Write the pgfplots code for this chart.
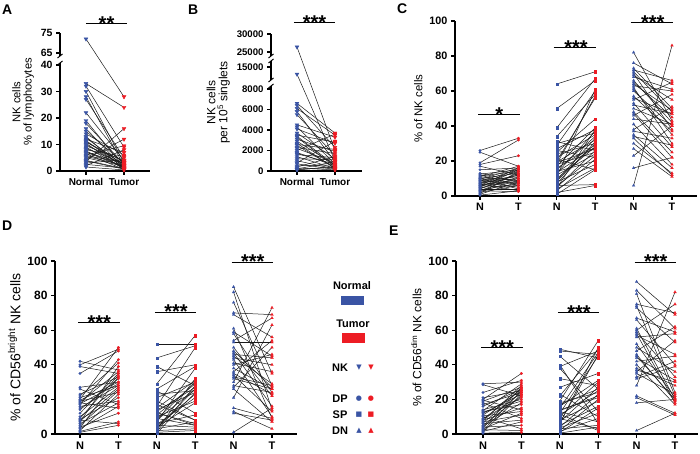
\documentclass[border=0pt]{standalone}
\usepackage{pgfplots}
\pgfplotsset{compat=1.18}
\usepackage{pgfplotstable}
\usepackage{fontspec}
\setmainfont{Liberation Sans}
\newfontfamily\symfont{DejaVu Sans}
\definecolor{nblue}{RGB}{58,84,164}
\definecolor{tred}{RGB}{237,28,36}

% ---------------- data (N = normal, T = tumor, one row per patient) -------------
\pgfplotstableread{
N T
72 28
33 24
32 9
30 3
28 2
27 5
22 4
19 1.5
18 2.5
16 1
15 3
14 6
13 0.8
12.5 2
12 7
11.5 1.2
11 3.5
10.5 0.5
10 2
9.5 4
9 1
8.5 2.8
8 5.5
7.5 1.5
7 3
6.5 0.6
6 9.5
5.5 2.2
5 1.8
4.5 12
4 0.9
3.5 16
3 4.2
2.5 1.1
2 8
1.5 0.4
11 2.6
7.2 1.3
5.8 3.2
3.8 0.7
}\tabA

\pgfplotstableread{
N T
26400 2000
13000 1000
6600 3700
6400 2300
6100 3500
5800 900
5500 1500
4500 3300
4300 700
4100 2700
3700 1200
3500 2800
3300 400
3100 1900
2900 600
2600 2100
2500 300
2300 1700
2200 800
2000 3600
1800 500
1600 1300
1400 250
1200 1100
1000 200
800 2900
700 150
500 600
400 1400
300 100
200 900
150 350
100 450
3400 550
2700 250
1700 650
}\tabB

\pgfplotstableread{
N T
26 33
25 17
19 32
18 23
17 12
15 16
13 8
12.5 15
12 6
11.5 14
11 17
10.5 9
10 13
10 4
9.5 16
9 11
9 7
8.5 15
8 10
8 5
7.5 14
7 12
7 3
6.5 9
6 16
6 8
5.5 12
5 6
5 15
4.5 10
4 4
4 13
3.5 7
3 11
3 2.5
2.5 9
2 6
1.5 14
1 8
0.5 3
}\tabCdp

\pgfplotstableread{
N T
64 71
50 66
39 67
34 58
31 26
30 36
29 60
27 38
26 22
25 44
24 30
22 35
21 15
20 56
19.5 32
19 27
18.5 57
18 25
17 39
16 29
15 34
14 20
13 37
12 24
11 61
10 28
9 33
8 18
7 31
6 6.5
5.5 23
5 26
4 16
3 21
2 6
1 15
13.5 28
8.5 30
4.5 38
}\tabCsp

\pgfplotstableread{
N T
82 43
76 64
73 50
72 66
71 48
70 38
69 55
68 61
66 42
65 45
64 49
63 60
62 30
60 40
57 37
56 47
55 65
53 28
50 41
48 25
47 22
46 58
41 18
38 51
37 33
35 16
34 29
33 12
30 13
27 11
23 40
16 22
6 86
44 41
52 47
61 35
}\tabCdn

\pgfplotstableread{
N T
42 37
40 49
39 35
35 48
27 30
26 17
23 33
22 41
21 28
20 50
19 24
18.5 36
18 15
17.5 29
17 43
16 19
14 32
10 27
9 34
8.5 21
8 6
7 39
6 18
5 25
4 12
3 16
2 23
1.5 7
1 5
19.5 30
15 28
12 35
7.5 26
3.5 33
}\tabDdp

\pgfplotstableread{
N T
52 52
44 51
39 28
36 40
29 57
26 39
25 12
23 25
21 30
19 8
16 50
15 31
14 24
13 27
12 6
11 29
10 19
9 5
8 26
7 38
6 11
5.5 21
5 4
4.5 23
4 18
3 7
2.5 32
2 3
1.5 28
1 2
0.5 24
17 8
12.5 5
8.5 30
3.5 26
}\tabDsp

\pgfplotstableread{
N T
85 35
82 14
76 28
70 69
69 56
61 9
59 45
58 24
54 67
53 53
50 22
48 27
47 16
46 44
45 29
43 10
41 36
38 26
36 54
35 23
34 13
33 28
30 73
28 24
27 50
26 7
21 63
15 9
13 3
12 8
1 15
44 40
40 46
32 26
}\tabDdn

\pgfplotstableread{
N T
29 30
28.5 22
24 31
21 25
20 35
19.5 14
19 27
18 9
17 24
16 26
14 20
13.5 29
13 17
12 23
11 25
10.5 13
10 3
9 21
8.5 26
8 15
7 11
6.5 24
6 8
5 22
4.5 18
4 5
3.5 27
3 12
2.5 2
2 25
1.5 7
1 23
0.5 1
12.5 19
7.5 28
}\tabEdp

\pgfplotstableread{
N T
49 44
48 46
45 26
40 6
39 48
38 13
32 28
27 35
23 10
22 49
19 54
18 24
16 31
15 47
14 21
13.5 22
13 7
12 45
11 25
10 30
9 3
8 19
7 27
6 50
5 16
4 23
3.5 12
3 5
2 20
1.5 9
1 15
0.5 4
17 26
11.5 2
6.5 46
}\tabEsp

\pgfplotstableread{
N T
88 69
83 61
81 24
75 70
74 22
73 53
66 40
61 20
60 75
59 33
58 18
57 46
56 58
52 21
50 36
48 62
46 19
44 31
42 45
40 17
38 28
37 30
36 54
35 23
33 42
32 39
28 82
22 12
21 11
18 20
2 12
67 59
45 20
}\tabEdn

\newcommand{\fs}[1]{\fontsize{#1}{#1}\selectfont}
\pgfplotsset{
  panel/.style={
    scale only axis, anchor=south west, clip=false,
    axis lines*=left, axis line style={line width=1.2pt},
    tick align=outside, major tick length=4pt,
    tick style={line width=1.1pt, black},
    /pgf/number format/assume math mode=true,
    enlargelimits=false, minor tick num=0,
  },
  trio/.style={panel, width=242pt, xtick={1,2,3,4,5,6},
    xticklabels={N,T,N,T,N,T}, ymin=0, ymax=100, ytick={0,20,40,60,80,100}},
  pairline/.style={black!90, line width=0.5pt, no marks, forget plot},
  nmark/.style={only marks, color=nblue, mark options={draw=nblue, fill=nblue, line width=0.1pt}},
  tmark/.style={only marks, color=tred, mark options={draw=tred, fill=tred, line width=0.1pt}},
}

\newcommand{\sig}[5]{%
  \draw[line width=1pt, black] (axis cs:#1,#4) -- (axis cs:#2,#4);
  \node[font=\bfseries\fs{20}, anchor=base, inner sep=0pt, yshift=-6.4pt] at (axis cs:#3,#4) {#5};
}
% one group of paired points: table, x of normal, x of tumor, mark, mark size
\newcommand{\pairs}[5]{%
  \addplot[pairline, quiver={u=1, v=\thisrow{T}-\thisrow{N}}] table[x expr=#2, y=N] {#1};
  \addplot[nmark, mark=#4, mark size=#5] table[x expr=#2, y=N] {#1};
  \addplot[tmark, mark=#4, mark size=#5] table[x expr=#3, y=T] {#1};
}

\begin{document}
\begin{tikzpicture}[declare function={
    brkA(\x)=(\x<=50)*(\x*2.65)+(\x>50)*(118+(\x-65)*2);
    brkB(\x)=(\x<=10000)*(\x*0.01025)+(\x>10000)*(\x<=20000)*(104+(\x-15000)*0.0036)+(\x>20000)*(119+(\x-25000)*0.0036);
  }]
\path[use as bounding box] (0,0) rectangle (700pt,454pt);

% ---------------- A ----------------
\begin{axis}[panel, at={(60pt,283pt)}, width=90pt, height=138pt,
  xmin=0.316, xmax=2.684, ymin=0, ymax=138,
  xtick={1,2}, xticklabels={Normal,Tumor},
  ytick={0,26.5,53,79.5,106,118,138}, yticklabels={0,10,20,30,40,65,75},
  yticklabel style={font=\bfseries\fs{10.5}},
  xticklabel style={font=\bfseries\fs{10}},
  y axis line style={draw=none},
  ylabel={NK cells\\\% of lymphocytes}, ylabel style={align=center, font=\fs{11.2}}]
\addplot[pairline, quiver={u=1, v=brkA(\thisrow{T})-brkA(\thisrow{N})}] table[x expr=1, y expr=brkA(\thisrow{N})] {\tabA};
\addplot[nmark, mark=triangle*, mark size=2.2pt, mark options={rotate=180}] table[x expr=1, y expr=brkA(\thisrow{N})] {\tabA};
\addplot[tmark, mark=triangle*, mark size=2.2pt, mark options={rotate=180}] table[x expr=2, y expr=brkA(\thisrow{T})] {\tabA};
\draw[line width=1.2pt] (axis cs:0.316,-0.6) -- (axis cs:0.316,108);
\draw[line width=1pt] (axis cs:0.316,108) ++(-2.5pt,-2pt) -- ++(5pt,4pt);
\draw[line width=1.2pt] (axis cs:0.316,115) -- (axis cs:0.316,138);
\draw[line width=1pt] (axis cs:0.316,115) ++(-2.5pt,-2pt) -- ++(5pt,4pt);
\sig{1}{2.08}{1.54}{147}{**}
\end{axis}

% ---------------- B ----------------
\begin{axis}[panel, at={(271pt,283pt)}, width=91pt, height=137pt,
  xmin=0.316, xmax=2.711, ymin=0, ymax=137,
  xtick={1,2}, xticklabels={Normal,Tumor},
  ytick={0,20.5,41,61.5,82,104,119,137}, yticklabels={0,2000,4000,6000,8000,15000,25000,30000},
  yticklabel style={font=\bfseries\fs{9.6}},
  xticklabel style={font=\bfseries\fs{10}},
  y axis line style={draw=none},
  ylabel={NK cells\\per 10\textsuperscript{5} singlets}, ylabel style={align=center, font=\fs{12}}]
\addplot[pairline, quiver={u=1, v=brkB(\thisrow{T})-brkB(\thisrow{N})}] table[x expr=1, y expr=brkB(\thisrow{N})] {\tabB};
\addplot[nmark, mark=triangle*, mark size=2.2pt, mark options={rotate=180}] table[x expr=1, y expr=brkB(\thisrow{N})] {\tabB};
\addplot[tmark, mark=triangle*, mark size=2.2pt, mark options={rotate=180}] table[x expr=2, y expr=brkB(\thisrow{T})] {\tabB};
\draw[line width=1.2pt] (axis cs:0.316,-0.6) -- (axis cs:0.316,85);
\draw[line width=1pt] (axis cs:0.316,85) ++(-2.5pt,-2pt) -- ++(5pt,4pt);
\draw[line width=1.2pt] (axis cs:0.316,91) -- (axis cs:0.316,110);
\draw[line width=1pt] (axis cs:0.316,91) ++(-2.5pt,-2pt) -- ++(5pt,4pt);
\draw[line width=1pt] (axis cs:0.316,110) ++(-2.5pt,-2pt) -- ++(5pt,4pt);
\draw[line width=1.2pt] (axis cs:0.316,115) -- (axis cs:0.316,137);
\draw[line width=1pt] (axis cs:0.316,115) ++(-2.5pt,-2pt) -- ++(5pt,4pt);
\sig{0.92}{2}{1.46}{148}{***}
\end{axis}

% ---------------- C ----------------
\begin{axis}[trio, at={(455pt,258pt)}, height=175pt, xmin=0.349, xmax=6.651,
  yticklabel style={font=\bfseries\fs{10.8}},
  xticklabel style={font=\bfseries\fs{10.8}},
  ylabel={\% of NK cells}, ylabel style={font=\fs{11.4}}]
\pairs{\tabCdp}{1}{2}{*}{1.4pt}
\pairs{\tabCsp}{3}{4}{square*}{1.2pt}
\pairs{\tabCdn}{5}{6}{triangle*}{1.7pt}
\sig{0.95}{2.03}{1.5}{46.3}{*}
\sig{2.92}{4.03}{3.5}{84.6}{***}
\sig{4.92}{6.03}{5.5}{98.9}{***}
\end{axis}

% ---------------- D ----------------
\begin{axis}[trio, at={(55pt,20pt)}, height=173pt, xmin=0.349, xmax=6.651,
  yticklabel style={font=\bfseries\fs{12}},
  xticklabel style={font=\bfseries\fs{11}},
  ylabel={\% of CD56\textsuperscript{bright} NK cells}, ylabel style={font=\fs{14}}]
\pairs{\tabDdp}{1}{2}{*}{1.4pt}
\pairs{\tabDsp}{3}{4}{square*}{1.2pt}
\pairs{\tabDdn}{5}{6}{triangle*}{1.7pt}
\sig{0.95}{2.03}{1.5}{64.3}{***}
\sig{2.95}{4.03}{3.5}{70.3}{***}
\sig{4.95}{6.03}{5.5}{99.2}{***}
\end{axis}

% ---------------- E ----------------
\begin{axis}[trio, at={(456pt,20pt)}, height=173pt, xmin=0.297, xmax=6.599,
  yticklabel style={font=\bfseries\fs{12}},
  xticklabel style={font=\bfseries\fs{11}},
  ylabel={\% of CD56\textsuperscript{dim} NK cells}, ylabel style={font=\fs{12}}]
\pairs{\tabEdp}{1}{2}{*}{1.4pt}
\pairs{\tabEsp}{3}{4}{square*}{1.2pt}
\pairs{\tabEdn}{5}{6}{triangle*}{1.7pt}
\sig{0.95}{2.03}{1.5}{49.9}{***}
\sig{2.95}{4.03}{3.5}{70}{***}
\sig{4.95}{6.03}{5.5}{99.4}{***}
\end{axis}

% ---------------- panel letters ----------------
\begin{scope}[every node/.style={font=\bfseries\fs{14}, anchor=north west, inner sep=0pt}]
\node at (2pt,449pt) {A};
\node at (188pt,449pt) {B};
\node at (397pt,450pt) {C};
\node at (2pt,233pt) {D};
\node at (389pt,228pt) {E};
\end{scope}

% ---------------- legend ----------------
\begin{scope}[every node/.style={font=\bfseries\fs{11}, inner sep=0pt}]
\node at (352pt,168pt) {Normal};
\fill[nblue] (341pt,149pt) rectangle (364pt,158pt);
\node at (353pt,130pt) {Tumor};
\fill[tred] (342pt,111pt) rectangle (365pt,121pt);
\node at (340pt,86pt) {NK};
\node at (340pt,55pt) {DP};
\node at (340pt,39pt) {SP};
\node at (340pt,23pt) {DN};
\end{scope}
\begin{scope}[every node/.style={font=\symfont\fs{7}, inner sep=0pt}]
\node[text=nblue] at (359pt,86pt) {▼}; \node[text=tred] at (371pt,86pt) {▼};
\node[text=nblue] at (359pt,55pt) {●}; \node[text=tred] at (371pt,55pt) {●};
\node[text=nblue] at (359pt,39pt) {■}; \node[text=tred] at (371pt,39pt) {■};
\node[text=nblue] at (359pt,23pt) {▲}; \node[text=tred] at (371pt,23pt) {▲};
\end{scope}
\end{tikzpicture}
\end{document}
